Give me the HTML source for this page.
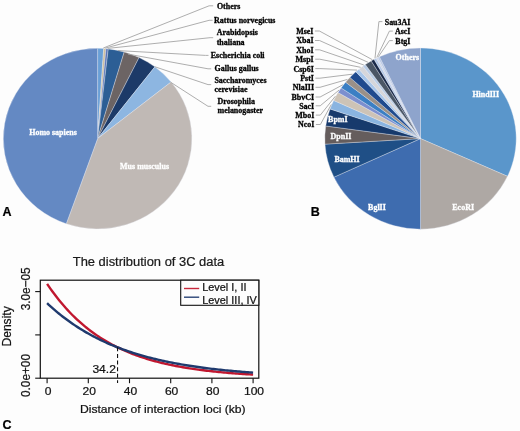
<!DOCTYPE html><html><head><meta charset="utf-8"><style>html,body{margin:0;padding:0;background:#fdfdfd;}svg{display:block;will-change:transform;}</style></head><body>
<svg width="520" height="431" viewBox="0 0 520 431">
<rect width="520" height="431" fill="#fdfdfd"/>
<path d="M97.60,138.60 L97.60,48.30 A94.30,90.30 0 0 1 103.69,48.49 Z" fill="#6aa0d6" stroke="#e8ecf2" stroke-width="0.35" stroke-linejoin="round"/>
<path d="M97.60,138.60 L103.69,48.49 A94.30,90.30 0 0 1 105.98,48.66 Z" fill="#cdbf9f" stroke="#e8ecf2" stroke-width="0.35" stroke-linejoin="round"/>
<path d="M97.60,138.60 L105.98,48.66 A94.30,90.30 0 0 1 108.28,48.88 Z" fill="#5b76b7" stroke="#e8ecf2" stroke-width="0.35" stroke-linejoin="round"/>
<path d="M97.60,138.60 L108.28,48.88 A94.30,90.30 0 0 1 124.22,51.97 Z" fill="#2c5e95" stroke="#e8ecf2" stroke-width="0.35" stroke-linejoin="round"/>
<path d="M97.60,138.60 L124.22,51.97 A94.30,90.30 0 0 1 139.09,57.51 Z" fill="#6c6464" stroke="#e8ecf2" stroke-width="0.35" stroke-linejoin="round"/>
<path d="M97.60,138.60 L139.09,57.51 A94.30,90.30 0 0 1 154.88,66.86 Z" fill="#1c3a68" stroke="#e8ecf2" stroke-width="0.35" stroke-linejoin="round"/>
<path d="M97.60,138.60 L154.88,66.86 A94.30,90.30 0 0 1 171.09,82.02 Z" fill="#8db6e1" stroke="#e8ecf2" stroke-width="0.35" stroke-linejoin="round"/>
<path d="M97.60,138.60 L171.09,82.02 A94.30,90.30 0 0 1 66.28,223.77 Z" fill="#c0b9b5" stroke="#e8ecf2" stroke-width="0.35" stroke-linejoin="round"/>
<path d="M97.60,138.60 L66.28,223.77 A94.30,90.30 0 0 1 97.60,48.30 Z" fill="#6489c3" stroke="#e8ecf2" stroke-width="0.35" stroke-linejoin="round"/>
<path d="M103.30,48.00 L209.10,5.80 L213.20,5.80" fill="none" stroke="#a5a5a5" stroke-width="0.9"/>
<path d="M105.20,48.10 L209.10,20.30 L212.60,20.30" fill="none" stroke="#a5a5a5" stroke-width="0.9"/>
<path d="M107.60,48.40 L210.00,37.70 L213.20,37.70" fill="none" stroke="#a5a5a5" stroke-width="0.9"/>
<path d="M118.00,50.60 L205.50,55.40 L208.50,55.40" fill="none" stroke="#a5a5a5" stroke-width="0.9"/>
<path d="M128.00,54.10 L208.00,68.80 L211.20,68.80" fill="none" stroke="#a5a5a5" stroke-width="0.9"/>
<path d="M155.00,66.80 L208.00,84.60 L211.20,84.60" fill="none" stroke="#a5a5a5" stroke-width="0.9"/>
<path d="M170.30,82.00 L208.00,106.30 L211.20,106.30" fill="none" stroke="#a5a5a5" stroke-width="0.9"/>
<text transform="translate(216.90,9.00) scale(1.05,1)" font-family="Liberation Serif" font-weight="bold" font-size="7.6" fill="#000" stroke="#000" stroke-width="0.28" text-anchor="start" >Others</text>
<text transform="translate(214.10,23.20) scale(1.05,1)" font-family="Liberation Serif" font-weight="bold" font-size="7.6" fill="#000" stroke="#000" stroke-width="0.28" text-anchor="start" >Rattus norvegicus</text>
<text transform="translate(216.70,35.40) scale(1.05,1)" font-family="Liberation Serif" font-weight="bold" font-size="7.6" fill="#000" stroke="#000" stroke-width="0.28" text-anchor="start" >Arabidopsis</text>
<text transform="translate(216.70,44.70) scale(1.05,1)" font-family="Liberation Serif" font-weight="bold" font-size="7.6" fill="#000" stroke="#000" stroke-width="0.28" text-anchor="start" >thaliana</text>
<text transform="translate(210.80,58.10) scale(1.05,1)" font-family="Liberation Serif" font-weight="bold" font-size="7.6" fill="#000" stroke="#000" stroke-width="0.28" text-anchor="start" >Escherichia coli</text>
<text transform="translate(214.60,71.00) scale(1.05,1)" font-family="Liberation Serif" font-weight="bold" font-size="7.6" fill="#000" stroke="#000" stroke-width="0.28" text-anchor="start" >Gallus gallus</text>
<text transform="translate(214.40,82.50) scale(1.05,1)" font-family="Liberation Serif" font-weight="bold" font-size="7.6" fill="#000" stroke="#000" stroke-width="0.28" text-anchor="start" >Saccharomyces</text>
<text transform="translate(214.40,91.70) scale(1.05,1)" font-family="Liberation Serif" font-weight="bold" font-size="7.6" fill="#000" stroke="#000" stroke-width="0.28" text-anchor="start" >cerevisiae</text>
<text transform="translate(217.50,104.00) scale(1.05,1)" font-family="Liberation Serif" font-weight="bold" font-size="7.6" fill="#000" stroke="#000" stroke-width="0.28" text-anchor="start" >Drosophila</text>
<text transform="translate(217.50,113.30) scale(1.05,1)" font-family="Liberation Serif" font-weight="bold" font-size="7.6" fill="#000" stroke="#000" stroke-width="0.28" text-anchor="start" >melanogaster</text>
<text transform="translate(29.20,135.00) scale(1.05,1)" font-family="Liberation Serif" font-weight="bold" font-size="7.6" fill="#fff" stroke="#fff" stroke-width="0.28" text-anchor="start" >Homo sapiens</text>
<text transform="translate(120.10,168.50) scale(1.05,1)" font-family="Liberation Serif" font-weight="bold" font-size="7.6" fill="#fff" stroke="#fff" stroke-width="0.28" text-anchor="start" >Mus musculus</text>
<path d="M420.50,138.60 L420.50,48.00 A95.70,90.60 0 0 1 507.51,176.32 Z" fill="#5a96cb" stroke="#e8ecf2" stroke-width="0.35" stroke-linejoin="round"/>
<path d="M420.50,138.60 L507.51,176.32 A95.70,90.60 0 0 1 420.50,229.20 Z" fill="#aea8a4" stroke="#e8ecf2" stroke-width="0.35" stroke-linejoin="round"/>
<path d="M420.50,138.60 L420.50,229.20 A95.70,90.60 0 0 1 333.91,177.18 Z" fill="#3e6caf" stroke="#e8ecf2" stroke-width="0.35" stroke-linejoin="round"/>
<path d="M420.50,138.60 L333.91,177.18 A95.70,90.60 0 0 1 324.98,144.13 Z" fill="#1f4f86" stroke="#e8ecf2" stroke-width="0.35" stroke-linejoin="round"/>
<path d="M420.50,138.60 L324.98,144.13 A95.70,90.60 0 0 1 325.73,125.99 Z" fill="#655d5d" stroke="#e8ecf2" stroke-width="0.35" stroke-linejoin="round"/>
<path d="M420.50,138.60 L325.73,125.99 A95.70,90.60 0 0 1 330.07,108.95 Z" fill="#173a6c" stroke="#e8ecf2" stroke-width="0.35" stroke-linejoin="round"/>
<path d="M420.50,138.60 L330.07,108.95 A95.70,90.60 0 0 1 333.70,100.45 Z" fill="#8ab4e0" stroke="#e8ecf2" stroke-width="0.35" stroke-linejoin="round"/>
<path d="M420.50,138.60 L333.70,100.45 A95.70,90.60 0 0 1 338.04,92.62 Z" fill="#cdc3b6" stroke="#e8ecf2" stroke-width="0.35" stroke-linejoin="round"/>
<path d="M420.50,138.60 L338.04,92.62 A95.70,90.60 0 0 1 341.16,87.94 Z" fill="#7c8fcf" stroke="#e8ecf2" stroke-width="0.35" stroke-linejoin="round"/>
<path d="M420.50,138.60 L341.16,87.94 A95.70,90.60 0 0 1 345.60,82.20 Z" fill="#3b7fc4" stroke="#e8ecf2" stroke-width="0.35" stroke-linejoin="round"/>
<path d="M420.50,138.60 L345.60,82.20 A95.70,90.60 0 0 1 349.94,77.39 Z" fill="#9a9088" stroke="#e8ecf2" stroke-width="0.35" stroke-linejoin="round"/>
<path d="M420.50,138.60 L349.94,77.39 A95.70,90.60 0 0 1 355.85,71.80 Z" fill="#1f4a8e" stroke="#e8ecf2" stroke-width="0.35" stroke-linejoin="round"/>
<path d="M420.50,138.60 L355.85,71.80 A95.70,90.60 0 0 1 358.99,69.20 Z" fill="#a8c6ea" stroke="#e8ecf2" stroke-width="0.35" stroke-linejoin="round"/>
<path d="M420.50,138.60 L358.99,69.20 A95.70,90.60 0 0 1 362.91,66.24 Z" fill="#d6d6da" stroke="#e8ecf2" stroke-width="0.35" stroke-linejoin="round"/>
<path d="M420.50,138.60 L362.91,66.24 A95.70,90.60 0 0 1 365.34,64.57 Z" fill="#b8cce6" stroke="#e8ecf2" stroke-width="0.35" stroke-linejoin="round"/>
<path d="M420.50,138.60 L365.34,64.57 A95.70,90.60 0 0 1 371.21,60.94 Z" fill="#4a5666" stroke="#e8ecf2" stroke-width="0.35" stroke-linejoin="round"/>
<path d="M420.50,138.60 L371.21,60.94 A95.70,90.60 0 0 1 374.10,59.36 Z" fill="#1a2a4a" stroke="#e8ecf2" stroke-width="0.35" stroke-linejoin="round"/>
<path d="M420.50,138.60 L374.10,59.36 A95.70,90.60 0 0 1 376.31,58.24 Z" fill="#b4c8e8" stroke="#e8ecf2" stroke-width="0.35" stroke-linejoin="round"/>
<path d="M420.50,138.60 L376.31,58.24 A95.70,90.60 0 0 1 377.80,57.52 Z" fill="#d0d8e8" stroke="#e8ecf2" stroke-width="0.35" stroke-linejoin="round"/>
<path d="M420.50,138.60 L377.80,57.52 A95.70,90.60 0 0 1 379.45,56.76 Z" fill="#b8c8e6" stroke="#e8ecf2" stroke-width="0.35" stroke-linejoin="round"/>
<path d="M420.50,138.60 L379.45,56.76 A95.70,90.60 0 0 1 420.50,48.00 Z" fill="#8ea4cc" stroke="#e8ecf2" stroke-width="0.35" stroke-linejoin="round"/>
<path d="M314.90,31.00 L319.40,31.00 L372.40,59.71" fill="none" stroke="#a5a5a5" stroke-width="0.9"/>
<text transform="translate(313.40,33.90) scale(1.05,1)" font-family="Liberation Serif" font-weight="bold" font-size="7.6" fill="#000" stroke="#000" stroke-width="0.28" text-anchor="end" >MseI</text>
<path d="M315.00,40.50 L319.50,40.50 L367.96,62.28" fill="none" stroke="#a5a5a5" stroke-width="0.9"/>
<text transform="translate(313.50,43.40) scale(1.05,1)" font-family="Liberation Serif" font-weight="bold" font-size="7.6" fill="#000" stroke="#000" stroke-width="0.28" text-anchor="end" >XbaI</text>
<path d="M315.10,49.80 L319.60,49.80 L363.82,64.99" fill="none" stroke="#a5a5a5" stroke-width="0.9"/>
<text transform="translate(313.60,52.70) scale(1.05,1)" font-family="Liberation Serif" font-weight="bold" font-size="7.6" fill="#000" stroke="#000" stroke-width="0.28" text-anchor="end" >XhoI</text>
<path d="M315.20,59.20 L319.70,59.20 L360.61,67.30" fill="none" stroke="#a5a5a5" stroke-width="0.9"/>
<text transform="translate(313.70,62.10) scale(1.05,1)" font-family="Liberation Serif" font-weight="bold" font-size="7.6" fill="#000" stroke="#000" stroke-width="0.28" text-anchor="end" >MspI</text>
<path d="M315.30,68.60 L319.80,68.60 L357.07,70.11" fill="none" stroke="#a5a5a5" stroke-width="0.9"/>
<text transform="translate(313.80,71.50) scale(1.05,1)" font-family="Liberation Serif" font-weight="bold" font-size="7.6" fill="#000" stroke="#000" stroke-width="0.28" text-anchor="end" >Csp6I</text>
<path d="M315.40,78.20 L319.90,78.20 L352.48,74.18" fill="none" stroke="#a5a5a5" stroke-width="0.9"/>
<text transform="translate(313.90,81.10) scale(1.05,1)" font-family="Liberation Serif" font-weight="bold" font-size="7.6" fill="#000" stroke="#000" stroke-width="0.28" text-anchor="end" >PstI</text>
<path d="M315.50,87.30 L320.00,87.30 L347.35,79.44" fill="none" stroke="#a5a5a5" stroke-width="0.9"/>
<text transform="translate(314.00,90.20) scale(1.05,1)" font-family="Liberation Serif" font-weight="bold" font-size="7.6" fill="#000" stroke="#000" stroke-width="0.28" text-anchor="end" >NlaIII</text>
<path d="M315.60,97.00 L320.10,97.00 L342.92,84.73" fill="none" stroke="#a5a5a5" stroke-width="0.9"/>
<text transform="translate(314.10,99.90) scale(1.05,1)" font-family="Liberation Serif" font-weight="bold" font-size="7.6" fill="#000" stroke="#000" stroke-width="0.28" text-anchor="end" >BbvCI</text>
<path d="M315.70,105.80 L320.20,105.80 L339.14,89.99" fill="none" stroke="#a5a5a5" stroke-width="0.9"/>
<text transform="translate(314.20,108.70) scale(1.05,1)" font-family="Liberation Serif" font-weight="bold" font-size="7.6" fill="#000" stroke="#000" stroke-width="0.28" text-anchor="end" >SacI</text>
<path d="M315.80,115.10 L320.30,115.10 L335.33,96.25" fill="none" stroke="#a5a5a5" stroke-width="0.9"/>
<text transform="translate(314.30,118.00) scale(1.05,1)" font-family="Liberation Serif" font-weight="bold" font-size="7.6" fill="#000" stroke="#000" stroke-width="0.28" text-anchor="end" >MboI</text>
<path d="M315.90,124.50 L320.40,124.50 L331.30,104.47" fill="none" stroke="#a5a5a5" stroke-width="0.9"/>
<text transform="translate(314.40,127.40) scale(1.05,1)" font-family="Liberation Serif" font-weight="bold" font-size="7.6" fill="#000" stroke="#000" stroke-width="0.28" text-anchor="end" >NcoI</text>
<path d="M382.40,21.60 L378.90,21.60 L374.97,58.35" fill="none" stroke="#a5a5a5" stroke-width="0.9"/>
<text transform="translate(410.40,24.60) scale(1.05,1)" font-family="Liberation Serif" font-weight="bold" font-size="7.6" fill="#000" stroke="#000" stroke-width="0.28" text-anchor="end" >Sau3AI</text>
<path d="M392.80,31.10 L389.40,31.10 L376.83,57.43" fill="none" stroke="#a5a5a5" stroke-width="0.9"/>
<text transform="translate(410.40,34.10) scale(1.05,1)" font-family="Liberation Serif" font-weight="bold" font-size="7.6" fill="#000" stroke="#000" stroke-width="0.28" text-anchor="end" >AscI</text>
<path d="M392.80,40.60 L389.40,40.60 L378.40,56.69" fill="none" stroke="#a5a5a5" stroke-width="0.9"/>
<text transform="translate(410.40,43.60) scale(1.05,1)" font-family="Liberation Serif" font-weight="bold" font-size="7.6" fill="#000" stroke="#000" stroke-width="0.28" text-anchor="end" >BtgI</text>
<text transform="translate(395.60,59.80) scale(1.05,1)" font-family="Liberation Serif" font-weight="bold" font-size="7.6" fill="#fff" stroke="#fff" stroke-width="0.28" text-anchor="start" >Others</text>
<text transform="translate(472.40,96.70) scale(1.05,1)" font-family="Liberation Serif" font-weight="bold" font-size="7.6" fill="#fff" stroke="#fff" stroke-width="0.28" text-anchor="start" >HindIII</text>
<text transform="translate(452.30,209.60) scale(1.05,1)" font-family="Liberation Serif" font-weight="bold" font-size="7.6" fill="#fff" stroke="#fff" stroke-width="0.28" text-anchor="start" >EcoRI</text>
<text transform="translate(368.10,209.60) scale(1.05,1)" font-family="Liberation Serif" font-weight="bold" font-size="7.6" fill="#fff" stroke="#fff" stroke-width="0.28" text-anchor="start" >BglII</text>
<text transform="translate(334.40,161.90) scale(1.05,1)" font-family="Liberation Serif" font-weight="bold" font-size="7.6" fill="#fff" stroke="#fff" stroke-width="0.28" text-anchor="start" >BamHI</text>
<text transform="translate(330.60,138.50) scale(1.05,1)" font-family="Liberation Serif" font-weight="bold" font-size="7.6" fill="#fff" stroke="#fff" stroke-width="0.28" text-anchor="start" >DpnII</text>
<text transform="translate(328.10,121.50) scale(1.05,1)" font-family="Liberation Serif" font-weight="bold" font-size="7.6" fill="#fff" stroke="#fff" stroke-width="0.28" text-anchor="start" >BpmI</text>
<text transform="translate(2.40,216.20) scale(1.0,1)" font-family="Liberation Sans" font-weight="bold" font-size="12.5" fill="#000" stroke="#000" stroke-width="0.22" text-anchor="start" >A</text>
<text transform="translate(310.80,216.00) scale(1.0,1)" font-family="Liberation Sans" font-weight="bold" font-size="12.5" fill="#000" stroke="#000" stroke-width="0.22" text-anchor="start" >B</text>
<text transform="translate(2.50,428.80) scale(1.0,1)" font-family="Liberation Sans" font-weight="bold" font-size="12.5" fill="#000" stroke="#000" stroke-width="0.22" text-anchor="start" >C</text>
<text transform="translate(148.50,265.60) scale(1.05,1)" font-family="Liberation Sans" font-weight="normal" font-size="12.3" fill="#1a1a1a" stroke="#1a1a1a" stroke-width="0.22" text-anchor="middle" >The distribution of 3C data</text>
<path d="M47.10,283.81 L48.82,286.34 L50.53,288.81 L52.25,291.22 L53.97,293.55 L55.68,295.83 L57.40,298.04 L59.12,300.20 L60.83,302.30 L62.55,304.34 L64.27,306.32 L65.98,308.25 L67.70,310.13 L69.42,311.96 L71.13,313.74 L72.85,315.48 L74.57,317.16 L76.28,318.80 L78.00,320.40 L79.72,321.95 L81.43,323.47 L83.15,324.94 L84.87,326.37 L86.58,327.76 L88.30,329.12 L90.02,330.44 L91.73,331.72 L93.45,332.97 L95.17,334.19 L96.88,335.37 L98.60,336.52 L100.32,337.64 L102.03,338.73 L103.75,339.79 L105.47,340.83 L107.18,341.83 L108.90,342.81 L110.62,343.76 L112.33,344.69 L114.05,345.59 L115.77,346.46 L117.48,347.32 L119.20,348.15 L120.92,348.95 L122.63,349.74 L124.35,350.51 L126.07,351.25 L127.78,351.97 L129.50,352.68 L131.22,353.37 L132.93,354.03 L134.65,354.68 L136.37,355.32 L138.08,355.93 L139.80,356.53 L141.52,357.11 L143.23,357.68 L144.95,358.23 L146.67,358.77 L148.38,359.29 L150.10,359.80 L151.82,360.29 L153.53,360.77 L155.25,361.24 L156.97,361.70 L158.68,362.14 L160.40,362.57 L162.12,362.99 L163.83,363.40 L165.55,363.80 L167.27,364.19 L168.98,364.56 L170.70,364.93 L172.42,365.29 L174.13,365.63 L175.85,365.97 L177.57,366.30 L179.28,366.62 L181.00,366.93 L182.72,367.23 L184.43,367.53 L186.15,367.82 L187.87,368.10 L189.58,368.37 L191.30,368.63 L193.02,368.89 L194.73,369.14 L196.45,369.38 L198.17,369.62 L199.88,369.85 L201.60,370.07 L203.32,370.29 L205.03,370.51 L206.75,370.71 L208.47,370.91 L210.18,371.11 L211.90,371.30 L213.62,371.49 L215.33,371.67 L217.05,371.84 L218.77,372.01 L220.48,372.18 L222.20,372.34 L223.92,372.50 L225.63,372.65 L227.35,372.80 L229.07,372.95 L230.78,373.09 L232.50,373.22 L234.22,373.36 L235.93,373.49 L237.65,373.62 L239.37,373.74 L241.08,373.86 L242.80,373.98 L244.52,374.09 L246.23,374.20 L247.95,374.31 L249.67,374.41 L251.38,374.51 L253.10,374.61" fill="none" stroke="#c0172f" stroke-width="2.4" stroke-linejoin="round" stroke-linecap="butt"/>
<path d="M47.10,303.15 L48.82,304.76 L50.53,306.33 L52.25,307.87 L53.97,309.38 L55.68,310.85 L57.40,312.30 L59.12,313.71 L60.83,315.09 L62.55,316.44 L64.27,317.77 L65.98,319.06 L67.70,320.33 L69.42,321.57 L71.13,322.78 L72.85,323.97 L74.57,325.13 L76.28,326.27 L78.00,327.38 L79.72,328.47 L81.43,329.54 L83.15,330.58 L84.87,331.60 L86.58,332.60 L88.30,333.58 L90.02,334.54 L91.73,335.47 L93.45,336.39 L95.17,337.28 L96.88,338.16 L98.60,339.02 L100.32,339.86 L102.03,340.68 L103.75,341.48 L105.47,342.27 L107.18,343.04 L108.90,343.80 L110.62,344.53 L112.33,345.25 L114.05,345.96 L115.77,346.65 L117.48,347.33 L119.20,347.99 L120.92,348.64 L122.63,349.27 L124.35,349.89 L126.07,350.50 L127.78,351.09 L129.50,351.67 L131.22,352.24 L132.93,352.80 L134.65,353.34 L136.37,353.87 L138.08,354.40 L139.80,354.91 L141.52,355.41 L143.23,355.89 L144.95,356.37 L146.67,356.84 L148.38,357.30 L150.10,357.75 L151.82,358.18 L153.53,358.61 L155.25,359.03 L156.97,359.44 L158.68,359.85 L160.40,360.24 L162.12,360.62 L163.83,361.00 L165.55,361.37 L167.27,361.73 L168.98,362.08 L170.70,362.43 L172.42,362.77 L174.13,363.10 L175.85,363.42 L177.57,363.74 L179.28,364.05 L181.00,364.35 L182.72,364.65 L184.43,364.94 L186.15,365.22 L187.87,365.50 L189.58,365.77 L191.30,366.04 L193.02,366.30 L194.73,366.56 L196.45,366.80 L198.17,367.05 L199.88,367.29 L201.60,367.52 L203.32,367.75 L205.03,367.97 L206.75,368.19 L208.47,368.41 L210.18,368.62 L211.90,368.82 L213.62,369.02 L215.33,369.22 L217.05,369.41 L218.77,369.60 L220.48,369.79 L222.20,369.97 L223.92,370.14 L225.63,370.32 L227.35,370.48 L229.07,370.65 L230.78,370.81 L232.50,370.97 L234.22,371.13 L235.93,371.28 L237.65,371.43 L239.37,371.57 L241.08,371.71 L242.80,371.85 L244.52,371.99 L246.23,372.12 L247.95,372.25 L249.67,372.38 L251.38,372.50 L253.10,372.63" fill="none" stroke="#1f3a6e" stroke-width="2.4" stroke-linejoin="round" stroke-linecap="butt"/>
<line x1="117.55" y1="347.35" x2="117.55" y2="383" stroke="#111" stroke-width="1.1" stroke-dasharray="4,2.6"/>
<rect x="40.3" y="280.2" width="218.5" height="98" fill="none" stroke="#111" stroke-width="1.2"/>
<line x1="35.2" y1="378.20" x2="40.3" y2="378.20" stroke="#111" stroke-width="1.1"/>
<line x1="35.2" y1="334.90" x2="40.3" y2="334.90" stroke="#111" stroke-width="1.1"/>
<line x1="35.2" y1="291.60" x2="40.3" y2="291.60" stroke="#111" stroke-width="1.1"/>
<line x1="47.10" y1="378.2" x2="47.10" y2="383.2" stroke="#111" stroke-width="1.1"/>
<text transform="translate(48.00,395.00) scale(1.05,1)" font-family="Liberation Sans" font-weight="normal" font-size="11.5" fill="#111" stroke="#111" stroke-width="0.22" text-anchor="middle" >0</text>
<line x1="88.30" y1="378.2" x2="88.30" y2="383.2" stroke="#111" stroke-width="1.1"/>
<text transform="translate(89.20,395.00) scale(1.05,1)" font-family="Liberation Sans" font-weight="normal" font-size="11.5" fill="#111" stroke="#111" stroke-width="0.22" text-anchor="middle" >20</text>
<line x1="129.50" y1="378.2" x2="129.50" y2="383.2" stroke="#111" stroke-width="1.1"/>
<text transform="translate(130.40,395.00) scale(1.05,1)" font-family="Liberation Sans" font-weight="normal" font-size="11.5" fill="#111" stroke="#111" stroke-width="0.22" text-anchor="middle" >40</text>
<line x1="170.70" y1="378.2" x2="170.70" y2="383.2" stroke="#111" stroke-width="1.1"/>
<text transform="translate(171.60,395.00) scale(1.05,1)" font-family="Liberation Sans" font-weight="normal" font-size="11.5" fill="#111" stroke="#111" stroke-width="0.22" text-anchor="middle" >60</text>
<line x1="211.90" y1="378.2" x2="211.90" y2="383.2" stroke="#111" stroke-width="1.1"/>
<text transform="translate(212.80,395.00) scale(1.05,1)" font-family="Liberation Sans" font-weight="normal" font-size="11.5" fill="#111" stroke="#111" stroke-width="0.22" text-anchor="middle" >80</text>
<line x1="253.10" y1="378.2" x2="253.10" y2="383.2" stroke="#111" stroke-width="1.1"/>
<text transform="translate(254.00,395.00) scale(1.05,1)" font-family="Liberation Sans" font-weight="normal" font-size="11.5" fill="#111" stroke="#111" stroke-width="0.22" text-anchor="middle" >100</text>
<text transform="translate(29.5,288.85) rotate(-90) scale(1,1.05)" font-family="Liberation Sans" font-size="11.8" fill="#111" stroke="#111" stroke-width="0.22" text-anchor="middle">3.0e−05</text>
<text transform="translate(29.5,375.5) rotate(-90) scale(1,1.05)" font-family="Liberation Sans" font-size="11.8" fill="#111" stroke="#111" stroke-width="0.22" text-anchor="middle">0.0e+00</text>
<text transform="translate(10.9,326.4) rotate(-90) scale(1,1.05)" font-family="Liberation Sans" font-size="12.1" fill="#111" stroke="#111" stroke-width="0.22" text-anchor="middle">Density</text>
<text transform="translate(92.40,373.20) scale(1.05,1)" font-family="Liberation Sans" font-weight="normal" font-size="11.5" fill="#111" stroke="#111" stroke-width="0.22" text-anchor="start" >34.2</text>
<text transform="translate(80.00,412.50) scale(1.05,1)" font-family="Liberation Sans" font-weight="normal" font-size="11.55" fill="#111" stroke="#111" stroke-width="0.22" text-anchor="start" >Distance of interaction loci (kb)</text>
<rect x="180.7" y="280.2" width="78.1" height="25.1" fill="#fdfdfd" stroke="#111" stroke-width="1.1"/>
<line x1="184" y1="288.5" x2="199.2" y2="288.5" stroke="#c8283c" stroke-width="1.4"/>
<line x1="184" y1="297.2" x2="199.2" y2="297.2" stroke="#2a4476" stroke-width="1.4"/>
<text transform="translate(202.20,291.00) scale(1.05,1)" font-family="Liberation Sans" font-weight="normal" font-size="10.4" fill="#111" stroke="#111" stroke-width="0.22" text-anchor="start" >Level I, II</text>
<text transform="translate(202.20,303.50) scale(1.05,1)" font-family="Liberation Sans" font-weight="normal" font-size="10.4" fill="#111" stroke="#111" stroke-width="0.22" text-anchor="start" >Level III, IV</text>
</svg></body></html>
